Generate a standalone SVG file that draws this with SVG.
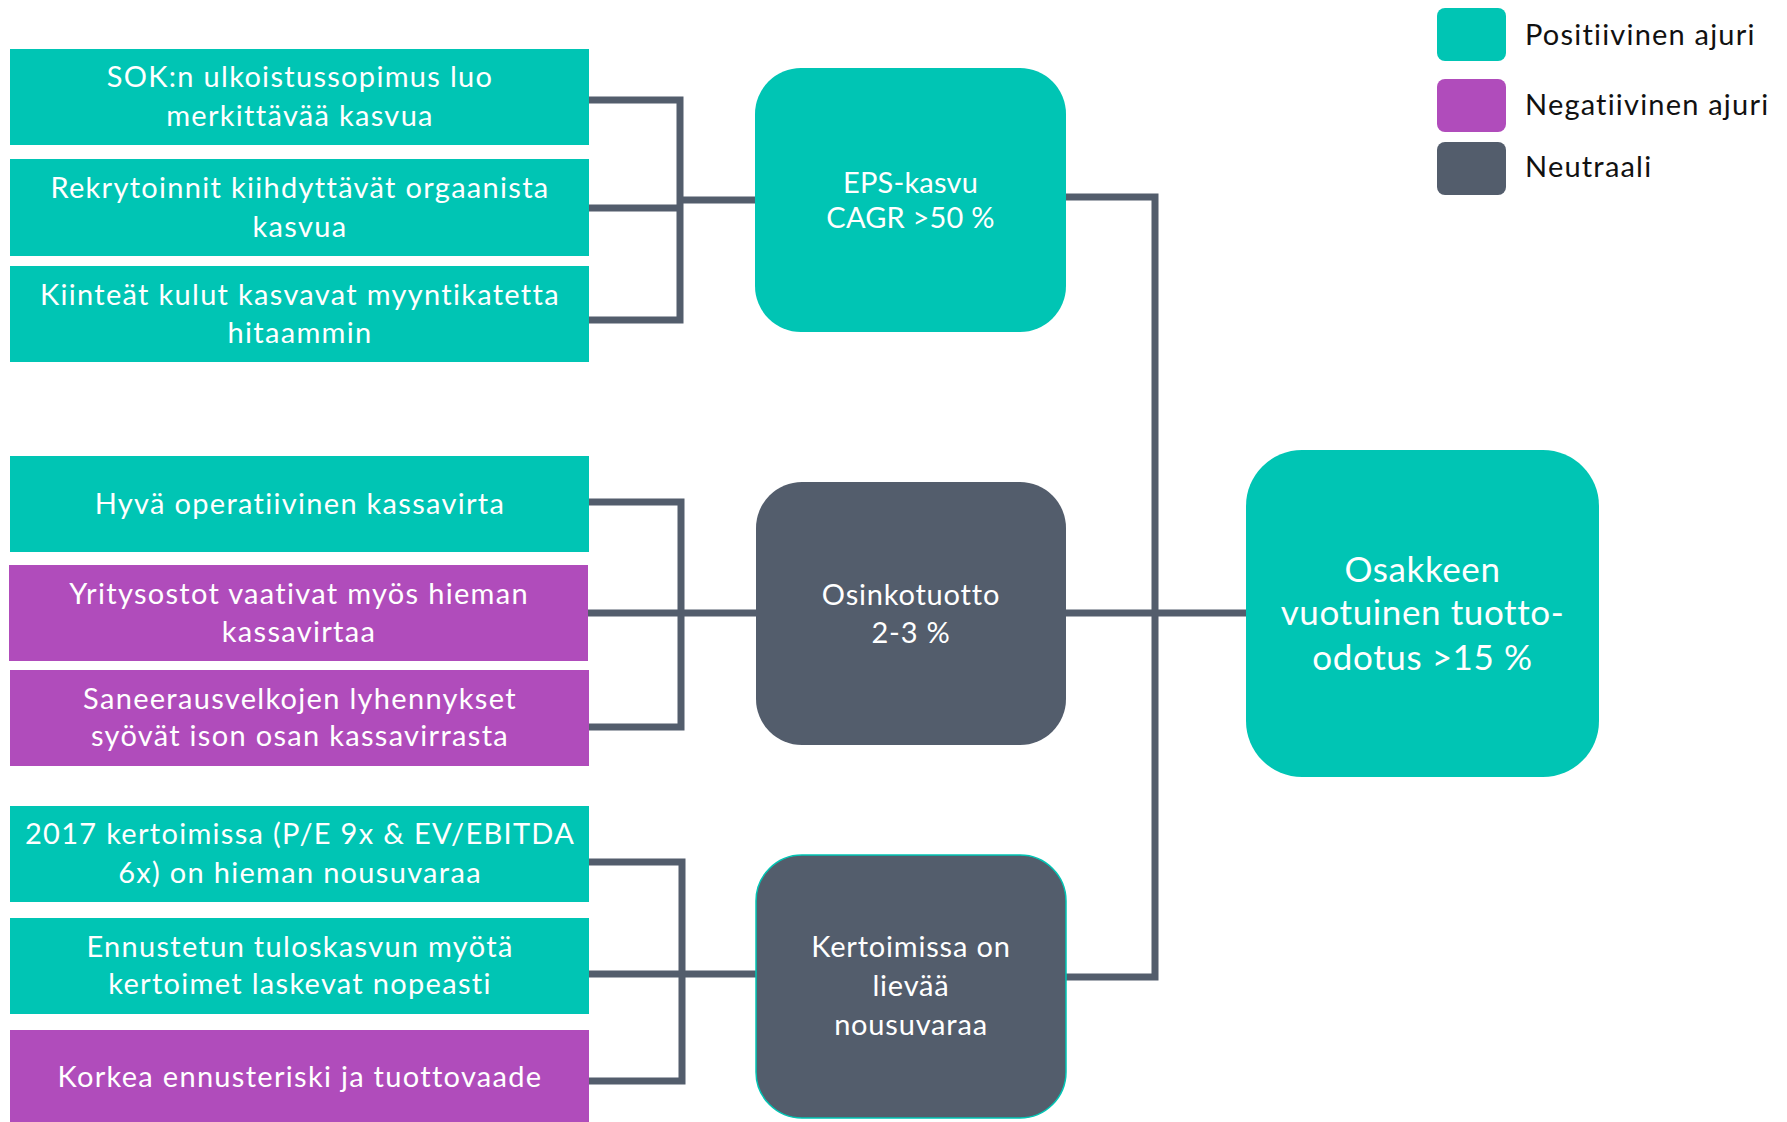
<svg xmlns="http://www.w3.org/2000/svg" width="1787" height="1122" viewBox="0 0 1787 1122">
<style>
.pos{fill:#00C5B4}
.neg{fill:#B04CBB}
.neu{fill:#535D6C}
.t{font-family:Lato,"Liberation Sans",sans-serif;font-size:29px;fill:#ffffff;text-anchor:middle;letter-spacing:1.3px;font-variant-ligatures:none}
.m{letter-spacing:0.8px}
.e{letter-spacing:0.2px}
.big{font-size:35px;letter-spacing:0.6px}
.leg{font-family:Lato,"Liberation Sans",sans-serif;font-size:29px;fill:#111111;letter-spacing:1.2px;font-variant-ligatures:none}
.c{fill:none;stroke:#535D6C;stroke-width:7;stroke-linecap:square;stroke-linejoin:miter}
</style>
<rect width="1787" height="1122" fill="#ffffff"/>
<g id="connectors">
<path class="c" d="M589 100 H680 V320 H589 M589 208 H680 M680 200 H755"/>
<path class="c" d="M589 502 H681 V727 H589 M589 613 H755"/>
<path class="c" d="M589 862 H682 V1081 H589 M589 974 H755"/>
<path class="c" d="M1066 197 H1155 V977 H1066 M1066 613 H1247"/>
</g>
<g id="n1"><rect class="pos" x="10" y="49" width="579" height="96"/><text class="t"><tspan x="300" y="87">SOK:n ulkoistussopimus luo</tspan><tspan x="300" y="126">merkittävää kasvua</tspan></text></g>
<g id="n2"><rect class="pos" x="10" y="159" width="579" height="97"/><text class="t"><tspan x="300" y="198">Rekrytoinnit kiihdyttävät orgaanista</tspan><tspan x="300" y="237">kasvua</tspan></text></g>
<g id="n3"><rect class="pos" x="10" y="266" width="579" height="96"/><text class="t"><tspan x="300" y="305">Kiinteät kulut kasvavat myyntikatetta</tspan><tspan x="300" y="343">hitaammin</tspan></text></g>
<g id="n4"><rect class="pos" x="10" y="456" width="579" height="96"/><text class="t" x="300" y="514">Hyvä operatiivinen kassavirta</text></g>
<g id="n5"><rect class="neg" x="9" y="565" width="579" height="96"/><text class="t"><tspan x="299" y="604">Yritysostot vaativat myös hieman</tspan><tspan x="299" y="642">kassavirtaa</tspan></text></g>
<g id="n6"><rect class="neg" x="10" y="670" width="579" height="96"/><text class="t"><tspan x="300" y="709">Saneerausvelkojen lyhennykset</tspan><tspan x="300" y="746">syövät ison osan kassavirrasta</tspan></text></g>
<g id="n7"><rect class="pos" x="10" y="806" width="579" height="96"/><text class="t"><tspan x="300" y="844">2017 kertoimissa (P/E 9x &amp; EV/EBITDA</tspan><tspan x="300" y="883">6x) on hieman nousuvaraa</tspan></text></g>
<g id="n8"><rect class="pos" x="10" y="918" width="579" height="96"/><text class="t"><tspan x="300" y="957">Ennustetun tuloskasvun myötä</tspan><tspan x="300" y="994">kertoimet laskevat nopeasti</tspan></text></g>
<g id="n9"><rect class="neg" x="10" y="1030" width="579" height="96"/><text class="t" x="300" y="1087">Korkea ennusteriski ja tuottovaade</text></g>
<g id="eps"><rect class="pos" x="755" y="68" width="311" height="264" rx="46" ry="46"/><text class="t e"><tspan x="910.5" y="193">EPS-kasvu</tspan><tspan x="910.5" y="228">CAGR &gt;50 %</tspan></text></g>
<g id="osinko"><rect class="neu" x="756" y="482" width="310" height="263" rx="46" ry="46"/><text class="t m"><tspan x="911" y="605">Osinkotuotto</tspan><tspan x="911" y="643">2-3 %</tspan></text></g>
<g id="kertoimet"><rect class="neu" x="756" y="855" width="310" height="263" rx="46" ry="46" stroke="#00C5B4" stroke-width="1.5"/><text class="t m"><tspan x="911" y="957">Kertoimissa on</tspan><tspan x="911" y="996">lievää</tspan><tspan x="911" y="1035">nousuvaraa</tspan></text></g>
<g id="tuotto"><rect class="pos" x="1246" y="450" width="353" height="327" rx="56" ry="56"/><text class="t big"><tspan x="1422.5" y="582">Osakkeen</tspan><tspan x="1422.5" y="625">vuotuinen tuotto-</tspan><tspan x="1422.5" y="670">odotus &gt;15 %</tspan></text></g>
<g id="legend">
<rect class="pos" x="1437" y="8" width="69" height="53" rx="8"/>
<rect class="neg" x="1437" y="79" width="69" height="53" rx="8"/>
<rect class="neu" x="1437" y="142" width="69" height="53" rx="8"/>
<text class="leg" x="1525" y="45">Positiivinen ajuri</text>
<text class="leg" x="1525" y="115">Negatiivinen ajuri</text>
<text class="leg" x="1525" y="177">Neutraali</text>
</g>
</svg>
